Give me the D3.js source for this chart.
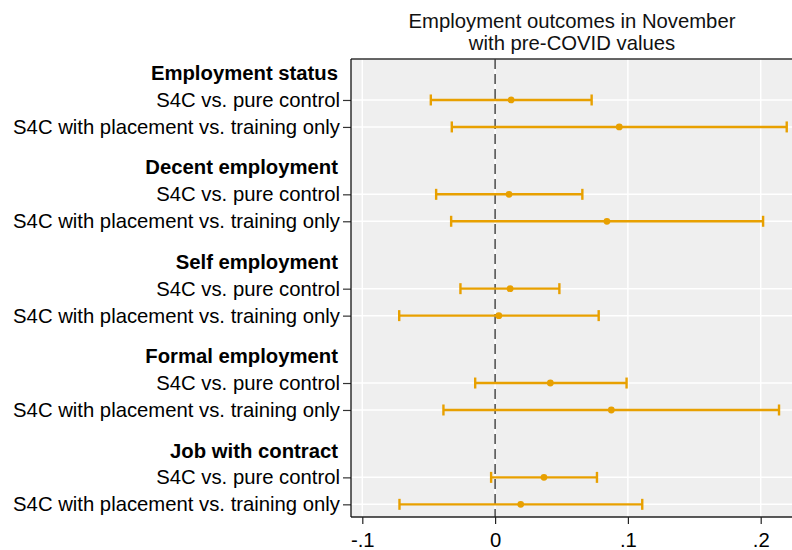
<!DOCTYPE html>
<html>
<head>
<meta charset="utf-8">
<script src="https://cdn.jsdelivr.net/npm/d3@7"></script>
<style>
  html, body { margin: 0; padding: 0; background: #fff; }
  svg { display: block; font-family: "Liberation Sans", Arial, sans-serif; }
</style>
</head>
<body>
<svg id="chart" width="792" height="550"></svg>
<script>
const titleLines = ["Employment outcomes in November", "with pre-COVID values"];
const groups = ["Employment status", "Decent employment", "Self employment", "Formal employment", "Job with contract"];
const comparisons = ["S4C vs. pure control", "S4C with placement vs. training only"];
// estimate, lower, upper for each group: [pure control, placement vs training]
const estimates = [[0.012, 0.0935], [0.0105, 0.0842], [0.0113, 0.0028], [0.0416, 0.0875], [0.0368, 0.0193]];
const lowerCI   = [[-0.0484, -0.0326], [-0.0444, -0.0331], [-0.0261, -0.0722], [-0.0150, -0.0389], [-0.0030, -0.0720]];
const upperCI   = [[0.0727, 0.2196], [0.0657, 0.2018], [0.0484, 0.0780], [0.0990, 0.2138], [0.0767, 0.1108]];
const xTicks = [-0.1, 0, 0.1, 0.2];
const xTickLabels = ["-.1", "0", ".1", ".2"];

(function () {
const svg = d3.select("#chart");
const pl = 351, pr = 800, pt = 59, pb = 517;
const color = "#e8a000";
const fs = 20.3;

const x = d3.scaleLinear().domain([-0.1, 0.2]).range([362.3, 760.7]);
// position units: header at g*3.5, rows at g*3.5+1, +2
const y = d3.scaleLinear().domain([-0.52, 16.47]).range([pt, pb]);

const rows = [];
groups.forEach((g, gi) => {
  comparisons.forEach((c, ci) => {
    rows.push({ pos: gi * 3.5 + 1 + ci, label: c, est: estimates[gi][ci], lo: lowerCI[gi][ci], hi: upperCI[gi][ci] });
  });
});

// plot background
svg.append("rect").attr("x", pl).attr("y", pt).attr("width", pr - pl).attr("height", pb - pt).attr("fill", "#efefef");

// vertical grid
svg.append("g").selectAll("line").data(xTicks).join("line")
  .attr("x1", d => x(d)).attr("x2", d => x(d)).attr("y1", pt).attr("y2", pb)
  .attr("stroke", "#ffffff").attr("stroke-width", 1.5);
// horizontal grid
svg.append("g").selectAll("line").data(rows).join("line")
  .attr("x1", pl).attr("x2", pr).attr("y1", d => y(d.pos)).attr("y2", d => y(d.pos))
  .attr("stroke", "#ffffff").attr("stroke-width", 1.5);

// zero reference line
svg.append("line").attr("x1", x(0)).attr("x2", x(0)).attr("y1", pt).attr("y2", pb)
  .attr("stroke", "#3a3a3a").attr("stroke-width", 1.4).attr("stroke-dasharray", "10,5");

// frame
svg.append("line").attr("x1", pl).attr("x2", pr).attr("y1", pt).attr("y2", pt).attr("stroke", "#333").attr("stroke-width", 1.3);
const xAxis = d3.axisBottom(x).tickValues(xTicks).tickFormat((d, i) => xTickLabels[i]).tickSize(7).tickSizeOuter(0);
const gx = svg.append("g").attr("transform", `translate(0,${pb})`).call(xAxis);
gx.select(".domain").remove();
svg.append("line").attr("x1", pl).attr("x2", pr).attr("y1", pb).attr("y2", pb).attr("stroke", "#222").attr("stroke-width", 1.3);
gx.selectAll(".tick line").attr("stroke", "#222").attr("stroke-width", 1.2);
gx.selectAll(".tick text").attr("font-size", fs).attr("fill", "#000").attr("dy", 0).attr("y", 30)
  .attr("font-family", "Liberation Sans, Arial, sans-serif");

const yAxis = d3.axisLeft(y).tickValues(rows.map(r => r.pos)).tickFormat((d, i) => rows[i].label).tickSize(8).tickPadding(3).tickSizeOuter(0);
const gy = svg.append("g").attr("transform", `translate(${pl},0)`).call(yAxis);
gy.select(".domain").remove();
svg.append("line").attr("x1", pl).attr("x2", pl).attr("y1", pt).attr("y2", pb).attr("stroke", "#111").attr("stroke-width", 1.3);
gy.selectAll(".tick line").attr("stroke", "#333").attr("stroke-width", 1.2);
gy.selectAll(".tick text").attr("font-size", fs).attr("fill", "#000")
  .attr("font-family", "Liberation Sans, Arial, sans-serif");

// group headers
svg.append("g").selectAll("text").data(groups).join("text")
  .attr("x", 338).attr("y", (d, i) => y(i * 3.5)).attr("dy", "0.35em")
  .attr("text-anchor", "end").attr("font-size", fs).attr("font-weight", "bold").attr("fill", "#000")
  .text(d => d);

// error bars
const bars = svg.append("g");
bars.selectAll("line.ci").data(rows).join("line").attr("class", "ci")
  .attr("x1", d => x(d.lo)).attr("x2", d => x(d.hi)).attr("y1", d => y(d.pos)).attr("y2", d => y(d.pos))
  .attr("stroke", color).attr("stroke-width", 2.4);
["lo", "hi"].forEach(k => {
  bars.selectAll("line.cap-" + k).data(rows).join("line").attr("class", "cap-" + k)
    .attr("x1", d => x(d[k])).attr("x2", d => x(d[k]))
    .attr("y1", d => y(d.pos) - 5.5).attr("y2", d => y(d.pos) + 5.5)
    .attr("stroke", color).attr("stroke-width", 2.4);
});
bars.selectAll("circle").data(rows).join("circle")
  .attr("cx", d => x(d.est)).attr("cy", d => y(d.pos)).attr("r", 3.4).attr("fill", color);

// title
svg.append("g").selectAll("text").data(titleLines).join("text")
  .attr("text-anchor", "middle").attr("font-size", fs).attr("fill", "#111")
  .attr("x", 572).attr("y", (d, i) => 27.5 + i * 22.8)
  .text(d => d);
})();
</script>
</body>
</html>
